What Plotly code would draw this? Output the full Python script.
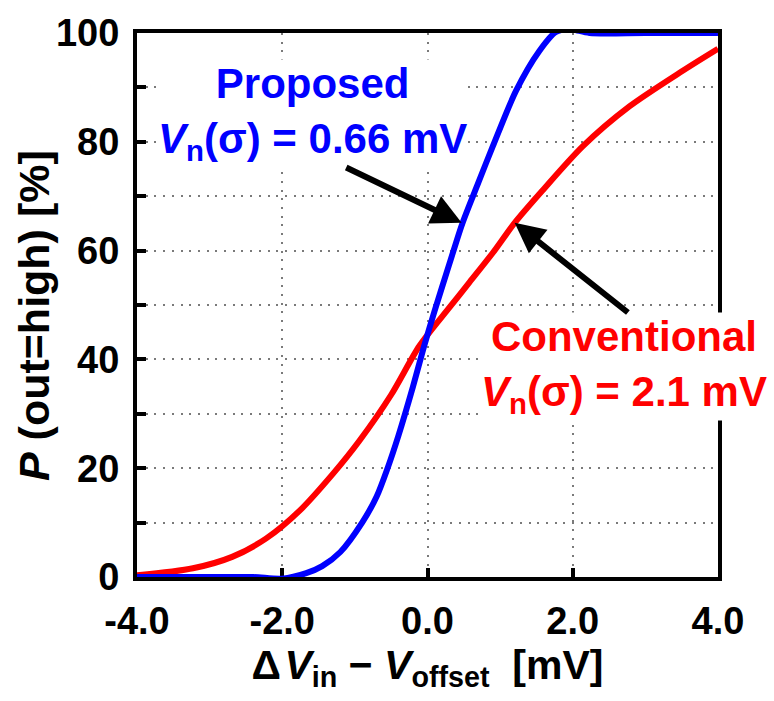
import plotly.graph_objects as go

# Proposed comparator (blue)
blue_x = [-4.0, -3.0, -2.4, -2.0, -1.67, -1.45, -1.2, -0.9, -0.7, -0.55, -0.4, -0.2, -0.05, 0.1, 0.3, 0.48, 0.7, 0.9, 1.22, 1.54, 1.77, 1.96, 2.23, 3.0, 4.0]
blue_y = [0.0, 0.0, 0.0, -0.3, 0.7, 2.0, 4.6, 10.0, 14.8, 20.0, 26.0, 35.0, 42.3, 49.0, 57.5, 65.0, 72.5, 79.2, 89.4, 96.7, 100.2, 100.7, 100.0, 100.0, 100.0]

# Conventional comparator (red)
red_x = [-4.0, -3.23, -2.69, -2.22, -1.76, -1.3, -0.94, -0.5, -0.11, 0.3, 0.58, 0.9, 1.2, 1.58, 2.14, 2.78, 3.52, 4.0]
red_y = [0.3, 1.6, 3.7, 7.1, 12.2, 19.0, 25.0, 33.5, 42.5, 49.5, 54.2, 59.6, 65.1, 71.0, 79.2, 86.5, 93.1, 97.1]

x_ticks = [-4, -2, 0, 2, 4]
x_ticktext = ["-4.0", "-2.0", "0.0", "2.0", "4.0"]
y_ticks = [0, 10, 20, 30, 40, 50, 60, 70, 80, 90, 100]
y_ticktext = ["0", "", "20", "", "40", "", "60", "", "80", "", "100"]

FONT = "Liberation Sans, Arial, Helvetica, sans-serif"

fig = go.Figure()
fig.add_trace(go.Scatter(x=red_x, y=red_y, mode="lines", cliponaxis=False,
                         line=dict(color="#ff0000", width=6, shape="spline", smoothing=0.8),
                         showlegend=False))
fig.add_trace(go.Scatter(x=blue_x, y=blue_y, mode="lines", cliponaxis=False,
                         line=dict(color="#0000ff", width=6, shape="spline", smoothing=0.8),
                         showlegend=False))

axis_common = dict(
    showline=True, linewidth=4, linecolor="black", mirror=True,
    ticks="inside", ticklen=9, tickwidth=4, tickcolor="black",
    showgrid=True, gridcolor="#7a7a7a", gridwidth=2, griddash="2px,6.7px",
    zeroline=False, layer="below traces",
    tickfont=dict(family=FONT, size=38, color="black", weight="bold"),
)

fig.update_xaxes(range=[-4, 4], tickvals=x_ticks, ticktext=x_ticktext,
                 ticklabelstandoff=7,
                 title=dict(text="Δ\u200a<i>V</i><sub>in</sub> − <i>V</i><sub>offset</sub>\u00a0\u00a0[mV]",
                            font=dict(family=FONT, size=41, color="black", weight="bold"),
                            standoff=10),
                 **axis_common)
fig.update_yaxes(range=[0, 100], tickvals=y_ticks, ticktext=y_ticktext,
                 ticklabelstandoff=6, **axis_common)

# y-axis title (slightly below the axis centre, as in the reference)
fig.add_annotation(x=-0.177, y=0.48, xref="paper", yref="paper", showarrow=False,
                   xanchor="center", yanchor="middle",
                   text="<i>P</i> (out=high) [%]", textangle=-90,
                   font=dict(family=FONT, size=43, color="black", weight="bold"))

ann_font = dict(family=FONT, size=42, weight="bold")
fig.add_annotation(x=-1.58, y=85.2, xref="x", yref="y", showarrow=False,
                   text="Proposed<br><i>V</i><sub>n</sub>(σ) = 0.66 mV",
                   font=dict(color="#0000ff", **ann_font), bgcolor="white", borderpad=0)
fig.add_annotation(x=2.71, y=38.7, xref="x", yref="y", showarrow=False,
                   text="Conventional<br><i>V</i><sub>n</sub>(σ) = 2.1 mV",
                   font=dict(color="#ff0000", **ann_font), bgcolor="white", borderpad=0)

fig.add_annotation(x=0.47, y=65.1, ax=-1.14, ay=75.4, xref="x", yref="y", axref="x", ayref="y",
                   text="", showarrow=True, arrowhead=2, arrowsize=1, arrowwidth=6, arrowcolor="black")
fig.add_annotation(x=1.2, y=65.1, ax=2.78, ay=48.4, xref="x", yref="y", axref="x", ayref="y",
                   text="", showarrow=True, arrowhead=2, arrowsize=1, arrowwidth=6, arrowcolor="black")

fig.update_layout(
    width=774, height=701,
    margin=dict(l=137, r=56, t=29, b=124),
    paper_bgcolor="white", plot_bgcolor="white",
    font=dict(family=FONT, color="black"),
)

fig.write_html("out.html")
